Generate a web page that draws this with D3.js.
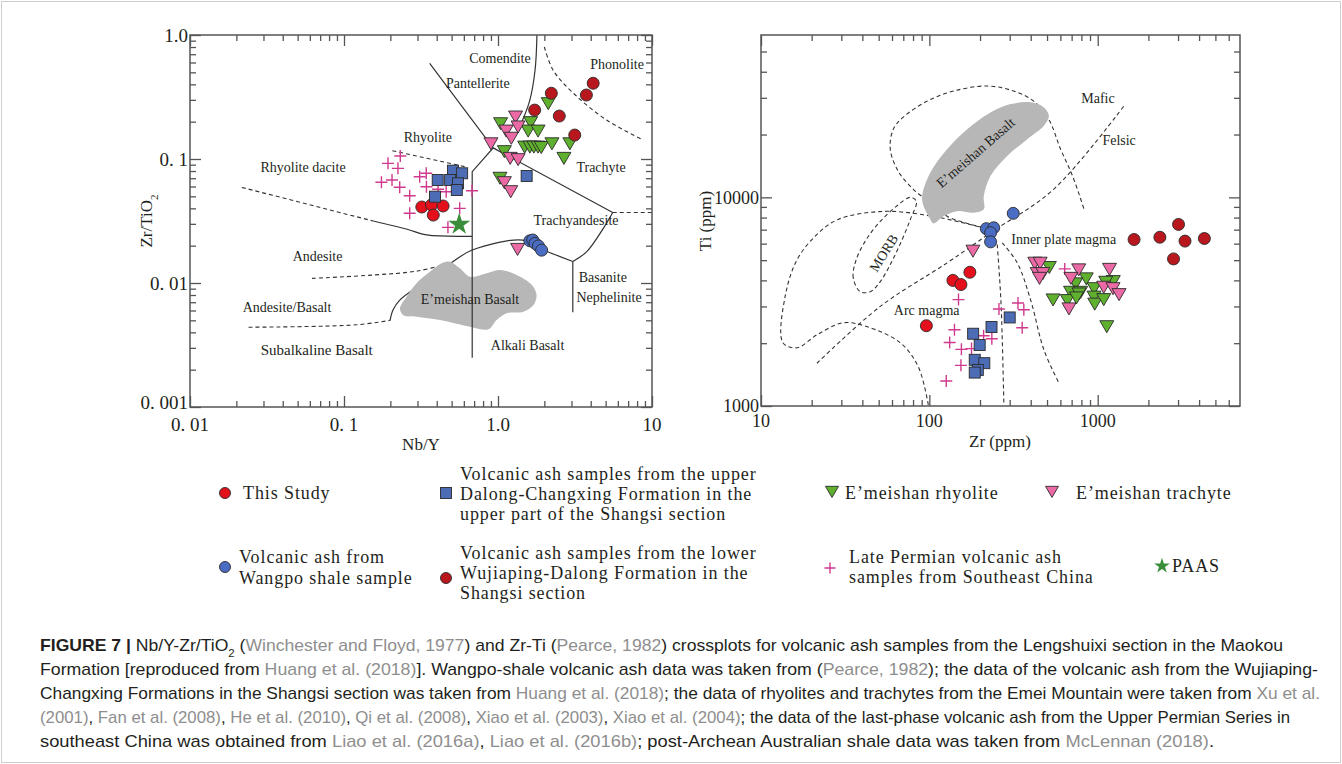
<!DOCTYPE html>
<html>
<head>
<meta charset="utf-8">
<title>Figure 7</title>
<script src="https://cdn.jsdelivr.net/npm/d3@7"></script>
<style>
  body { margin:0; background:#ffffff; }
  text { font-family:"Liberation Serif","Times New Roman",serif; fill:#231f20; }
  text.caption { font-family:"Liberation Sans",Arial,sans-serif; }
</style>
</head>
<body>
<svg id="figure"></svg>
<script>
//---------------- left diagram: [Nb/Y, Zr/TiO2] ----------------
var leftThisStudy = [[0.32,0.041],[0.37,0.0426],[0.44,0.0418],[0.38,0.0353]];
var leftDalong = [[0.51,0.0805],[0.585,0.0767],[0.406,0.0677],[0.489,0.0677],[0.55,0.0637],[0.54,0.0562],[0.39,0.0497],[1.535,0.0729]];
var leftWangpo = [[1.61,0.0219],[1.68,0.0222],[1.74,0.0209],[1.83,0.0199],[1.92,0.0184]];
var leftWujiaping = [[4.15,0.408],[3.75,0.328],[2.22,0.339],[1.73,0.248],[2.5,0.222],[3.15,0.156]];
var leftRhyolite = [[2.12,0.2845],[1.04,0.196],[1.63,0.2],[1.57,0.171],[1.82,0.171],[1.49,0.127],[1.61,0.127],[1.71,0.127],[1.82,0.127],[1.91,0.126],[2.24,0.135],[2.93,0.135],[2.68,0.103],[1.10,0.1167],[1.03,0.0712]];
var leftTrachyte = [[1.30,0.222],[0.90,0.135],[1.13,0.171],[1.22,0.1496],[1.35,0.1846],[1.20,0.103],[1.35,0.1006],[1.10,0.0656],[1.21,0.0555],[1.34,0.019]];
var leftPermian = [[0.232,0.1057],[0.193,0.0922],[0.224,0.0841],[0.175,0.0649],[0.205,0.0677],[0.23,0.0591],[0.267,0.0506],[0.31,0.072],[0.342,0.0767],[0.343,0.0598],[0.408,0.057],[0.461,0.0545],[0.267,0.0365],[0.564,0.040],[0.678,0.0555],[0.473,0.0281]];
var leftPAAS = [[0.56,0.0297]];

//field boundaries of the left diagram (Nb/Y, Zr/TiO2)
var leftEmeishanBasalt = [[0.231,0.00625],[0.255,0.00776],[0.296,0.00995],[0.361,0.0123],[0.441,0.0146],[0.488,0.01486],[0.566,0.01315],[0.658,0.01124],[0.845,0.01197],[1.03,0.01273],[1.32,0.0116],[1.66,0.00964],[1.78,0.0080],[1.70,0.00665],[1.46,0.00587],[1.14,0.0057],[0.98,0.00503],[0.865,0.00423],[0.658,0.00444],[0.42,0.00503],[0.296,0.00535],[0.243,0.0055]];
var leftRhyoliteLine = [[0.36,0.59],[0.93,0.123],[0.68,0.079],[0.68,0.0025]];
var leftComenditeLine = [[1.79,1.0],[1.74,0.52],[1.6,0.29],[1.35,0.17]];
var leftTrachyteLine = [[0.93,0.123],[5.56,0.037]];
var leftTrachyteDash = [[5.56,0.037],[10,0.037]];
var leftTrachyandesiteLine = [[5.56,0.037],[4.83,0.0276],[3.77,0.0179],[3.06,0.0149]];
var leftBasaniteLine = [[3.06,0.0149],[3.06,0.0058]];
var leftAndesiteLine = [[3.06,0.0149],[1.875,0.019],[1.45,0.0222],[0.68,0.01845],[0.5,0.0146],[0.312,0.00964],[0.231,0.0073],[0.208,0.00606],[0.199,0.00497]];
var leftSubalkalineDash = [[0.024,0.0044],[0.12,0.0046],[0.199,0.0050]];
var leftAndesiteDash = [[0.062,0.0109],[0.155,0.0116],[0.3,0.0125],[0.5,0.0146]];
var leftDaciteLine = [[0.155,0.0316],[0.26,0.027],[0.344,0.0244],[0.68,0.0238]];
var leftDaciteDash = [[0.0217,0.059],[0.155,0.0316]];
var leftRhyoliteDash = [[0.206,0.1167],[0.611,0.0867]];
var leftPhonoliteDash = [[2.0,0.8],[2.28,0.52],[3.08,0.34],[5.08,0.206],[8.8,0.142]];

var leftFieldLabels = [["Comendite",1.03,0.65],["Pantellerite",0.74,0.41],["Phonolite",5.93,0.58],
  ["Rhyolite",0.35,0.15],["Rhyolite dacite",0.0542,0.086],["Trachyte",4.67,0.086],
  ["Trachyandesite",3.21,0.0322],["Andesite",0.0673,0.0165],["E\u2019meishan Basalt",0.658,0.00743],
  ["Andesite/Basalt",0.0427,0.00644],["Basanite",4.79,0.01117],["Nephelinite",5.26,0.0077],
  ["Subalkaline Basalt",0.0665,0.00288],["Alkali Basalt",1.556,0.00316]];

//---------------- right diagram: [Zr ppm, Ti ppm] ----------------
var rightThisStudy = [[138,4000],[154,3820],[174,4375],[96,2425]];
var rightWangpo = [[315,8380],[218,7080],[241,7150],[231,6770],[231,6120]];
var rightWujiaping = [[1644,6280],[2340,6440],[3020,7420],[3300,6170],[4300,6350],[2820,5070]];
var rightDalong = [[300,2657],[234,2390],[182,2220],[199,1959],[186,1665],[212,1604],[194,1489],[186,1446]];
var rightPermian = [[149,3235],[259,2917],[336,3117],[364,2894],[356,2371],[141,2319],[132,2014],[155,1869],[178,1884],[210,2172],[235,2099],[154,1566],[126,1318],[637,4540]];
var rightRhyolite = [[516,4660],[855,4111],[740,3890],[690,3545],[792,3545],[774,3480],[543,3258],[660,3235],[748,3332],[951,3690],[951,3361],[960,3110],[1086,3270],[1237,3990],[1116,3960],[1132,2425]];
var rightTrachyte = [[181.5,5580],[423,4887],[455,4887],[437,4357],[472,4357],[451,4134],[771,4540],[693,4134],[675,2951],[1175,4566],[1086,3747],[1233,3690],[1339,3455]];

//field boundaries of the right diagram (Zr, Ti)
var rightEmeishanBasalt = [[101.4,7840],[90.5,9780],[101.4,13140],[127.5,17020],[167.7,21230],[230.7,25540],[303.6,28000],[399,28530],[479,26990],[513,24600],[479,22020],[381.5,19000],[290,15800],[230.7,12660],[210.5,10140],[210.5,8760],[183.5,8440],[146.2,8590],[121.6,8130],[106.1,7500]];
var rightPlateLoop = [[206.8,7175],[128,8103],[101,9460],[80.3,10930],[65.4,13335],[58.6,17015],[61.1,21230],[70,24250],[97.3,28940],[139,32330],[221,34180],[316,32330],[416,28940],[511,23710],[602,17015],[710,12620],[837,8565]];
var rightArcLoop = [[215.4,7095],[105.6,8103],[53.2,8565],[28.7,7840],[21.5,6640],[16.4,5035],[13.9,3342],[13.5,2009],[16.4,1901],[21.5,2195],[30.8,2506],[42.8,2397],[67.2,2009],[86,1540],[98.6,1012]];
var rightMorbLoop = [[38.8,3532],[35.3,4125],[36.8,5035],[42.2,6280],[51.1,7670],[63.6,9050],[77.1,10000],[83.7,9570],[77.1,7840],[68.1,6145],[59.4,4870],[51.1,3945],[44.6,3532]];
var rightMaficFelsic = [[21.5,1603],[51.1,3001],[127.5,4853],[230.7,6763],[547,10930],[1429,27380]];
var rightInnerLine1 = [[253,5943],[258.5,4677],[267,3001],[277,1030]];
var rightInnerLine2 = [[271,6054],[332.7,4853],[399,3235],[479,1858],[589,1286]];

var rightFieldLabels = [["Mafic",1003,29820],["Felsic",1340,18860],["Inner plate magma",628,6330],["Arc magma",96.4,2872]];
var rightRotatedLabels = [["E\u2019meishan Basalt",188,16400,-41],["MORB",53.5,5420,-58]];

//---------------- tick labels ----------------
var leftXTicks = [0.01,0.1,1,10];
var leftXTickText = ["0. 01","0. 1","1.0","10"];
var leftYTicks = [0.001,0.01,0.1,1];
var leftYTickText = ["0. 001","0. 01","0. 1","1.0"];
var rightXTicks = [10,100,1000];
var rightXTickText = ["10","100","1000"];
var rightYTicks = [1000,10000];
var rightYTickText = ["1000","10000"];

//---------------- legend and caption text ----------------
var legendThisStudy = ["This Study"];
var legendDalong = ["Volcanic ash samples from the upper","Dalong-Changxing Formation in the","upper part of the Shangsi section"];
var legendRhyolite = ["E\u2019meishan rhyolite"];
var legendTrachyte = ["E\u2019meishan trachyte"];
var legendWangpo = ["Volcanic ash from","Wangpo shale sample"];
var legendWujiaping = ["Volcanic ash samples from the lower","Wujiaping-Dalong Formation in the","Shangsi section"];
var legendPermian = ["Late Permian volcanic ash","samples from Southeast China"];
var legendPAAS = ["PAAS"];

var captionLines = [
  [["b","FIGURE 7 |"],["n"," Nb/Y-Zr/TiO"],["sub","2"],["n"," ("],["g","Winchester and Floyd, 1977"],["n",") and Zr-Ti ("],["g","Pearce, 1982"],["n",") crossplots for volcanic ash samples from the Lengshuixi section in the Maokou"]],
  [["n","Formation [reproduced from "],["g","Huang et al. (2018)"],["n","]. Wangpo-shale volcanic ash data was taken from ("],["g","Pearce, 1982"],["n","); the data of the volcanic ash from the Wujiaping-"]],
  [["n","Changxing Formations in the Shangsi section was taken from "],["g","Huang et al. (2018)"],["n","; the data of rhyolites and trachytes from the Emei Mountain were taken from "],["g","Xu et al."]],
  [["g","(2001)"],["n",", "],["g","Fan et al. (2008)"],["n",", "],["g","He et al. (2010)"],["n",", "],["g","Qi et al. (2008)"],["n",", "],["g","Xiao et al. (2003)"],["n",", "],["g","Xiao et al. (2004)"],["n","; the data of the last-phase volcanic ash from the Upper Permian Series in"]],
  [["n","southeast China was obtained from "],["g","Liao et al. (2016a)"],["n",", "],["g","Liao et al. (2016b)"],["n","; post-Archean Australian shale data was taken from "],["g","McLennan (2018)"],["n","."]]
];
var captionEnds = [1283,1318,1320,1290,1214];

//colours
var cThisStudy = "#e4101b";
var cWangpo = "#4a6cc2";
var cWujiaping = "#b8171d";
var cDalong = "#4d6cb6";
var cRhyolite = "#5fb02e";
var cTrachyte = "#eb6aa6";
var cCross = "#d03a8e";
var cStar = "#3a8d3a";
var cBasalt = "#b7b7b7";
var markStroke = "#2a2a2a";
var lineColor = "#333333";

var makeTranslateString = function(x,y)
{
    return "translate("+x+","+y+")";
}

//minor ticks 2..9 inside every decade
var minorTicks = function(lo,hi)
{
    var out = [];
    for (var e = Math.floor(Math.log10(lo)); e < Math.ceil(Math.log10(hi)); e++)
    {
        for (var m = 2; m <= 9; m++)
        {
            var v = m*Math.pow(10,e);
            if (v > lo*1.0001 && v < hi*0.9999) out.push(v);
        }
    }
    return out;
}

//---------------- single marks at pixel positions ----------------
var circleAt = function(g,x,y,fill,r)
{
    g.append("circle").attr("cx",x).attr("cy",y).attr("r",r)
     .attr("fill",fill).attr("stroke",markStroke).attr("stroke-width",0.9);
}
var squareAt = function(g,x,y,fill,s)
{
    g.append("rect").attr("x",x-s/2).attr("y",y-s/2).attr("width",s).attr("height",s)
     .attr("fill",fill).attr("stroke",markStroke).attr("stroke-width",0.9);
}
var triangleAt = function(g,x,y,fill,s)
{
    var d = "M"+(x-s)+","+(y-s*0.72)+"L"+(x+s)+","+(y-s*0.72)+"L"+x+","+(y+s)+"Z";
    g.append("path").attr("d",d).attr("fill",fill)
     .attr("stroke",markStroke).attr("stroke-width",0.9).attr("stroke-linejoin","round");
}
var crossAt = function(g,x,y,s)
{
    g.append("path").attr("d","M"+(x-s)+","+y+"H"+(x+s)+"M"+x+","+(y-s)+"V"+(y+s))
     .attr("stroke",cCross).attr("stroke-width",1.4).attr("fill","none");
}
var starAt = function(g,x,y,size)
{
    g.append("path").attr("d",d3.symbol().type(d3.symbolStar).size(size)())
     .attr("transform",makeTranslateString(x,y)).attr("fill",cStar);
}

//---------------- series drawn through the scales ----------------
var drawSeries = function(target,data,xScale,yScale,kind,fill)
{
    var g = target.append("g");
    data.forEach(function(d)
    {
        var x = xScale(d[0]), y = yScale(d[1]);
        if (kind=="circle") circleAt(g,x,y,fill,6);
        else if (kind=="square") squareAt(g,x,y,fill,11);
        else if (kind=="triangle") triangleAt(g,x,y,fill,7);
        else if (kind=="cross") crossAt(g,x,y,6);
        else if (kind=="star") starAt(g,x,y,150);
    });
}

var drawBoundary = function(target,pts,xScale,yScale,dashed,smooth,closed)
{
    var line = d3.line()
        .x(function(d){return xScale(d[0]);})
        .y(function(d){return yScale(d[1]);})
        .curve(closed ? d3.curveCatmullRomClosed : (smooth ? d3.curveCatmullRom : d3.curveLinear));
    target.append("path").attr("d",line(pts))
        .attr("fill","none").attr("stroke",lineColor)
        .attr("stroke-width",dashed?1.1:1.2)
        .attr("stroke-dasharray",dashed?"4,3":null);
}

var drawBlob = function(target,pts,xScale,yScale)
{
    var line = d3.line()
        .x(function(d){return xScale(d[0]);})
        .y(function(d){return yScale(d[1]);})
        .curve(d3.curveCatmullRomClosed);
    target.append("path").attr("d",line(pts)).attr("fill",cBasalt).attr("stroke","none");
}

var drawFieldLabels = function(target,labels,xScale,yScale,size)
{
    target.append("g").selectAll("text")
        .data(labels).enter().append("text")
        .attr("x",function(d){return xScale(d[1]);})
        .attr("y",function(d){return yScale(d[2]);})
        .attr("dy","0.35em")
        .attr("text-anchor","middle")
        .attr("font-size",function(d){return d[0]=="Subalkaline Basalt"?15:14;})
        .text(function(d){return d[0];});
}

//ticks pointing into the plot on all four sides
var addTicks = function(target,axis,x,y,values,len)
{
    target.append("g")
        .attr("transform",makeTranslateString(x,y))
        .call(axis.tickValues(values).tickSize(-len).tickSizeOuter(0).tickFormat(""))
        .call(function(g){ g.select(".domain").remove(); })
        .selectAll("line").attr("stroke","#555").attr("stroke-width",1.3);
}

var drawFrame = function(target,xScale,yScale,xTicks,xText,yTicks,yText,fontSize,xLabelY,bottomLift)
{
    var x0 = xScale.range()[0], x1 = xScale.range()[1];
    var yb = yScale.range()[0], yt = yScale.range()[1];
    var xMinor = minorTicks(xScale.domain()[0],xScale.domain()[1]);
    var yMinor = minorTicks(yScale.domain()[0],yScale.domain()[1]);

    addTicks(target,d3.axisBottom(xScale),0,yb,xMinor,6);
    addTicks(target,d3.axisBottom(xScale),0,yb,xTicks,11);
    addTicks(target,d3.axisTop(xScale),0,yt,xMinor,6);
    addTicks(target,d3.axisTop(xScale),0,yt,xTicks,11);
    addTicks(target,d3.axisLeft(yScale),x0,0,yMinor,6);
    addTicks(target,d3.axisLeft(yScale),x0,0,yTicks,11);
    addTicks(target,d3.axisRight(yScale),x1,0,yMinor,6);
    addTicks(target,d3.axisRight(yScale),x1,0,yTicks,11);

    target.append("rect").attr("x",x0).attr("y",yt)
        .attr("width",x1-x0).attr("height",yb-yt)
        .attr("fill","none").attr("stroke","#555").attr("stroke-width",1.5);

    target.append("g").selectAll("text")
        .data(d3.zip(xTicks,xText)).enter().append("text")
        .attr("x",function(d){return xScale(d[0]);})
        .attr("y",yb+xLabelY).attr("dy","0.35em")
        .attr("text-anchor","middle").attr("font-size",fontSize)
        .text(function(d){return d[1];});

    //the lowest y label is lifted a little so it clears the first x label
    target.append("g").selectAll("text")
        .data(d3.zip(yTicks,yText)).enter().append("text")
        .attr("x",x0-2)
        .attr("y",function(d,i){return yScale(d[0]) - (i==0?bottomLift:0);}).attr("dy","0.35em")
        .attr("text-anchor","end").attr("font-size",fontSize)
        .text(function(d){return d[1];});
}

//---------------- build the figure ----------------
var screen = {width:1342,height:764};
var svg = d3.select("#figure").attr("width",screen.width).attr("height",screen.height);

svg.append("rect").attr("x",1.5).attr("y",1.5)
   .attr("width",screen.width-3).attr("height",screen.height-3)
   .attr("fill","none").attr("stroke","#cfcfcf").attr("stroke-width",1);

var xL = d3.scaleLog().domain([0.01,10]).range([190,652]);
var yL = d3.scaleLog().domain([0.001,1]).range([407,35]);
var xR = d3.scaleLog().domain([10,7000]).range([761,1240]);
var yR = d3.scaleLog().domain([1000,60000]).range([406,35]);

// left diagram
var left = svg.append("g").attr("id","left");
drawBoundary(left,leftComenditeLine,xL,yL,false,true);
drawBoundary(left,leftTrachyteLine,xL,yL,false,false);
drawBoundary(left,leftTrachyteDash,xL,yL,true,false);
drawBoundary(left,leftTrachyandesiteLine,xL,yL,false,true);
drawBoundary(left,leftBasaniteLine,xL,yL,false,false);
drawBoundary(left,leftAndesiteLine,xL,yL,false,true);
drawBoundary(left,leftSubalkalineDash,xL,yL,true,true);
drawBoundary(left,leftAndesiteDash,xL,yL,true,true);
drawBoundary(left,leftDaciteLine,xL,yL,false,true);
drawBoundary(left,leftDaciteDash,xL,yL,true,false);
drawBoundary(left,leftRhyoliteDash,xL,yL,true,false);
drawBoundary(left,leftPhonoliteDash,xL,yL,true,true);
drawBlob(left,leftEmeishanBasalt,xL,yL);
drawBoundary(left,leftRhyoliteLine,xL,yL,false,false);
drawFieldLabels(left,leftFieldLabels,xL,yL);
drawFrame(left,xL,yL,leftXTicks,leftXTickText,leftYTicks,leftYTickText,19,17,5);

drawSeries(left,leftPermian,xL,yL,"cross");
drawSeries(left,leftPAAS,xL,yL,"star");
drawSeries(left,leftThisStudy,xL,yL,"circle",cThisStudy);
drawSeries(left,leftDalong,xL,yL,"square",cDalong);
drawSeries(left,leftWangpo,xL,yL,"circle",cWangpo);
drawSeries(left,leftRhyolite,xL,yL,"triangle",cRhyolite);
drawSeries(left,leftTrachyte,xL,yL,"triangle",cTrachyte);
drawSeries(left,leftWujiaping,xL,yL,"circle",cWujiaping);

left.append("text").attr("x",421).attr("y",450).attr("text-anchor","middle")
    .attr("font-size",17).text("Nb/Y");
var yTitle = left.append("text").attr("transform","translate(152,221) rotate(-90)")
    .attr("text-anchor","middle").attr("font-size",17);
yTitle.append("tspan").text("Zr/TiO");
yTitle.append("tspan").attr("baseline-shift","sub").attr("font-size",11).text("2");

// right diagram
var right = svg.append("g").attr("id","right");
drawBoundary(right,rightPlateLoop,xR,yR,true,true);
drawBoundary(right,rightArcLoop,xR,yR,true,true);
drawBoundary(right,rightMorbLoop,xR,yR,true,true,true);
drawBoundary(right,rightMaficFelsic,xR,yR,true,true);
drawBoundary(right,rightInnerLine1,xR,yR,true,true);
drawBoundary(right,rightInnerLine2,xR,yR,true,true);
drawBlob(right,rightEmeishanBasalt,xR,yR);
drawFieldLabels(right,rightFieldLabels,xR,yR);
right.append("g").selectAll("text")
    .data(rightRotatedLabels).enter().append("text")
    .attr("transform",function(d){return makeTranslateString(xR(d[1]),yR(d[2]))+" rotate("+d[3]+")";})
    .attr("dy","0.35em").attr("text-anchor","middle").attr("font-size",14)
    .text(function(d){return d[0];});
drawFrame(right,xR,yR,rightXTicks,rightXTickText,rightYTicks,rightYTickText,18,15,0);

drawSeries(right,rightPermian,xR,yR,"cross");
drawSeries(right,rightDalong,xR,yR,"square",cDalong);
drawSeries(right,rightThisStudy,xR,yR,"circle",cThisStudy);
drawSeries(right,rightWangpo,xR,yR,"circle",cWangpo);
drawSeries(right,rightRhyolite,xR,yR,"triangle",cRhyolite);
drawSeries(right,rightTrachyte,xR,yR,"triangle",cTrachyte);
drawSeries(right,rightWujiaping,xR,yR,"circle",cWujiaping);

right.append("text").attr("x",1000).attr("y",447).attr("text-anchor","middle")
    .attr("font-size",17).text("Zr (ppm)");
right.append("text").attr("transform","translate(711,221) rotate(-90)")
    .attr("text-anchor","middle").attr("font-size",17).text("Ti (ppm)");

// legend
var legend = svg.append("g").attr("id","legend");
var legendLines = function(lines,x,ys)
{
    lines.forEach(function(t,i)
    {
        legend.append("text").attr("x",x).attr("y",ys[i]).attr("dy","0.35em")
            .attr("font-size",18).attr("letter-spacing",0.9).text(t);
    });
}
circleAt(legend,225,493,cThisStudy,5.5);
legendLines(legendThisStudy,243,[493]);
squareAt(legend,446,493,cDalong,11);
legendLines(legendDalong,460,[474,494,514]);
triangleAt(legend,832,491,cRhyolite,6.5);
legendLines(legendRhyolite,845,[493]);
triangleAt(legend,1052,491,cTrachyte,6.5);
legendLines(legendTrachyte,1076,[493]);
circleAt(legend,225,567,cWangpo,5.5);
legendLines(legendWangpo,239,[557,578]);
circleAt(legend,446,578,cWujiaping,5.5);
legendLines(legendWujiaping,460,[553,573,593]);
crossAt(legend,830,568,5.5);
legendLines(legendPermian,849,[557,577]);
starAt(legend,1162,566,75);
legendLines(legendPAAS,1172,[566]);

// caption
var caption = svg.append("g").attr("id","caption");
captionLines.forEach(function(segs,i)
{
    var t = caption.append("text").attr("class","caption")
        .attr("x",40).attr("y",651+i*24).attr("font-size",17)
        .attr("textLength",captionEnds[i]-40).attr("lengthAdjust","spacingAndGlyphs");
    segs.forEach(function(s)
    {
        var sp = t.append("tspan").text(s[1]).attr("fill",s[0]=="g"?"#8e8e8e":"#231f20");
        if (s[0]=="b") sp.attr("font-weight","bold");
        if (s[0]=="sub") sp.attr("baseline-shift","sub").attr("font-size",11);
    });
});
</script>
</body>
</html>
